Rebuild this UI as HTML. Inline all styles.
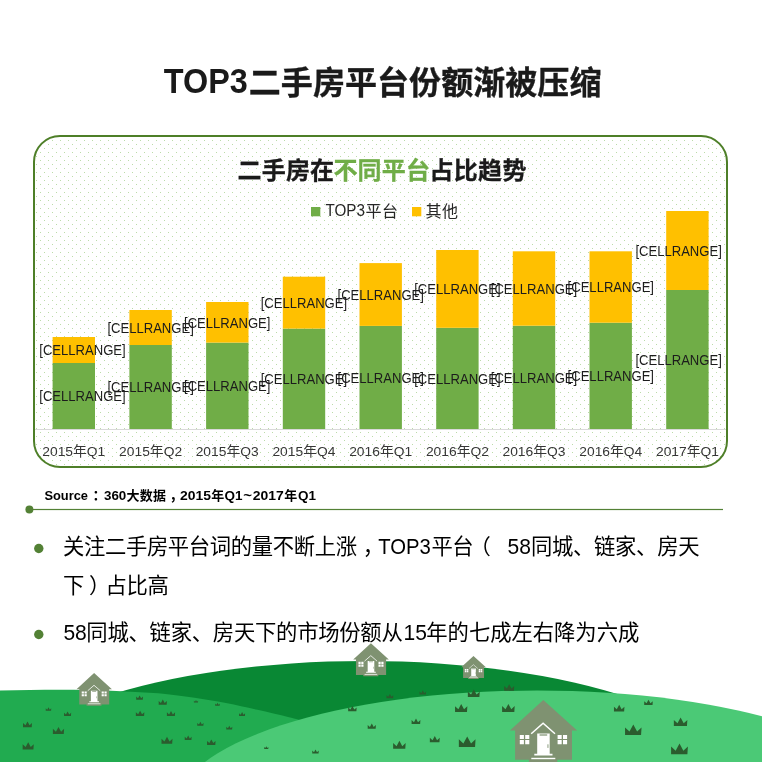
<!DOCTYPE html>
<html lang="zh-CN"><head><meta charset="utf-8"><title>TOP3二手房平台份额渐被压缩</title>
<style>html,body{margin:0;padding:0;background:#fff}body{width:762px;height:762px;overflow:hidden}svg{display:block}text{font-family:'Liberation Sans','Noto Sans CJK SC',sans-serif}</style>
</head><body>
<svg width="762" height="762" viewBox="0 0 762 762">
<defs>
<pattern id="dots" x="0" y="0" width="8" height="8" patternUnits="userSpaceOnUse"><rect x="0" y="0" width="1" height="1" fill="#bcdba9"/><rect x="4" y="4" width="1" height="1" fill="#bcdba9"/></pattern>
<path id="t" d="M-.5 0V-.46L-.23-.21 0-.635 .23-.21 .5-.46 .47 0Z"/>
<g id="h"><path fill="#7f9271" d="M.2 0L34 30.6H28.9V59.7H14.2V62.2H-14.2V59.7H-28V30.6H-33.2Z"/><path fill="none" stroke="#fff" stroke-width="1.5" d="M-11.9 33.7L0 23.3 11.9 33.7"/><path fill="#fff" d="M-5.9 33.5H6.6V53.8H9.4V55.4H-8.8V53.8H-5.9Z"/><rect fill="#fff" x="-11.8" y="57.8" width="24" height="1.4"/><rect fill="#7f9271" x="-3.5" y="34.4" width="7.6" height="1.2"/><rect fill="#7f9271" x="4.4" y="44.3" width="0.9" height="3.6"/><path fill="#fff" d="M-23.3 34.9h4.1v4.1h-4.1zM-17.9 34.9h4.1v4.1h-4.1zM-23.3 40.1h4.1v4.1h-4.1zM-17.9 40.1h4.1v4.1h-4.1zM14.5 34.9h4.1v4.1h-4.1zM19.9 34.9h4.1v4.1h-4.1zM14.5 40.1h4.1v4.1h-4.1zM19.9 40.1h4.1v4.1h-4.1z"/></g>
</defs>
<g fill="#1a1a1a" font-weight="bold" font-size="32">
<text x="163.8" y="92.7" font-size="35" textLength="84" lengthAdjust="spacingAndGlyphs">TOP3</text>
<text x="248.8" y="93.8" textLength="352.6" lengthAdjust="spacing" stroke="#1a1a1a" stroke-width=".35">二手房平台份额渐被压缩</text>
</g>
<rect x="34" y="136" width="693" height="331" rx="26" ry="26" fill="#fff"/>
<rect x="34" y="136" width="693" height="331" rx="26" ry="26" fill="url(#dots)" stroke="#4e7f28" stroke-width="2"/>
<g font-weight="bold" font-size="24" fill="#1a1a1a" stroke="#1a1a1a" stroke-width=".3">
<text x="237.5" y="178.5" textLength="96.6" lengthAdjust="spacing">二手房在</text>
<text x="333.4" y="178.5" textLength="96.6" lengthAdjust="spacing" fill="#70ad47" stroke="#70ad47">不同平台</text>
<text x="429.4" y="178.5" textLength="97" lengthAdjust="spacing">占比趋势</text>
</g>
<rect x="311" y="207" width="9.3" height="9.3" fill="#70ad47"/>
<rect x="412" y="207" width="9.3" height="9.3" fill="#ffc000"/>
<g font-size="16" fill="#262626">
<text x="325.5" y="215.5" font-size="16.6" textLength="39.5" lengthAdjust="spacingAndGlyphs">TOP3</text>
<text x="365.5" y="216.5" textLength="32.5" lengthAdjust="spacing">平台</text>
<text x="425.5" y="216.5" textLength="32.5" lengthAdjust="spacing">其他</text>
</g>
<g fill="#70ad47"><rect x="52.6" y="363.0" width="42.4" height="66.0"/><rect x="129.4" y="345.0" width="42.4" height="84.0"/><rect x="206.1" y="342.6" width="42.4" height="86.4"/><rect x="282.8" y="328.6" width="42.4" height="100.4"/><rect x="359.5" y="325.9" width="42.4" height="103.1"/><rect x="436.2" y="327.8" width="42.4" height="101.2"/><rect x="512.8" y="325.7" width="42.4" height="103.3"/><rect x="589.5" y="322.7" width="42.4" height="106.3"/><rect x="666.2" y="290.0" width="42.4" height="139.0"/></g>
<g fill="#ffc000"><rect x="52.6" y="337.0" width="42.4" height="26.0"/><rect x="129.4" y="310.0" width="42.4" height="35.0"/><rect x="206.1" y="302.0" width="42.4" height="40.6"/><rect x="282.8" y="276.7" width="42.4" height="51.9"/><rect x="359.5" y="263.1" width="42.4" height="62.8"/><rect x="436.2" y="250.0" width="42.4" height="77.8"/><rect x="512.8" y="251.3" width="42.4" height="74.4"/><rect x="589.5" y="251.3" width="42.4" height="71.4"/><rect x="666.2" y="211.0" width="42.4" height="79.0"/></g>
<rect x="35" y="429" width="691" height="1" fill="#d9d9d9"/>
<g font-size="14" fill="#1c1c1c" text-anchor="middle">
<text x="82.5" y="355.4" textLength="86.4" lengthAdjust="spacingAndGlyphs">[CELLRANGE]</text>
<text x="82.5" y="401.4" textLength="86.4" lengthAdjust="spacingAndGlyphs">[CELLRANGE]</text>
<text x="150.6" y="332.9" textLength="86.4" lengthAdjust="spacingAndGlyphs">[CELLRANGE]</text>
<text x="150.6" y="392.4" textLength="86.4" lengthAdjust="spacingAndGlyphs">[CELLRANGE]</text>
<text x="227.2" y="327.7" textLength="86.4" lengthAdjust="spacingAndGlyphs">[CELLRANGE]</text>
<text x="227.2" y="391.2" textLength="86.4" lengthAdjust="spacingAndGlyphs">[CELLRANGE]</text>
<text x="303.9" y="308.0" textLength="86.4" lengthAdjust="spacingAndGlyphs">[CELLRANGE]</text>
<text x="303.9" y="384.2" textLength="86.4" lengthAdjust="spacingAndGlyphs">[CELLRANGE]</text>
<text x="380.7" y="299.9" textLength="86.4" lengthAdjust="spacingAndGlyphs">[CELLRANGE]</text>
<text x="380.7" y="382.8" textLength="86.4" lengthAdjust="spacingAndGlyphs">[CELLRANGE]</text>
<text x="457.4" y="294.3" textLength="86.4" lengthAdjust="spacingAndGlyphs">[CELLRANGE]</text>
<text x="457.4" y="383.8" textLength="86.4" lengthAdjust="spacingAndGlyphs">[CELLRANGE]</text>
<text x="534.0" y="293.9" textLength="86.4" lengthAdjust="spacingAndGlyphs">[CELLRANGE]</text>
<text x="534.0" y="382.8" textLength="86.4" lengthAdjust="spacingAndGlyphs">[CELLRANGE]</text>
<text x="610.8" y="292.4" textLength="86.4" lengthAdjust="spacingAndGlyphs">[CELLRANGE]</text>
<text x="610.8" y="381.2" textLength="86.4" lengthAdjust="spacingAndGlyphs">[CELLRANGE]</text>
<text x="678.6" y="255.9" textLength="86.4" lengthAdjust="spacingAndGlyphs">[CELLRANGE]</text>
<text x="678.6" y="364.9" textLength="86.4" lengthAdjust="spacingAndGlyphs">[CELLRANGE]</text>
</g>
<g font-size="13.6" fill="#363636" text-anchor="middle">
<text x="73.8" y="455.8" textLength="63" lengthAdjust="spacingAndGlyphs">2015年Q1</text>
<text x="150.6" y="455.8" textLength="63" lengthAdjust="spacingAndGlyphs">2015年Q2</text>
<text x="227.2" y="455.8" textLength="63" lengthAdjust="spacingAndGlyphs">2015年Q3</text>
<text x="303.9" y="455.8" textLength="63" lengthAdjust="spacingAndGlyphs">2015年Q4</text>
<text x="380.7" y="455.8" textLength="63" lengthAdjust="spacingAndGlyphs">2016年Q1</text>
<text x="457.4" y="455.8" textLength="63" lengthAdjust="spacingAndGlyphs">2016年Q2</text>
<text x="534.0" y="455.8" textLength="63" lengthAdjust="spacingAndGlyphs">2016年Q3</text>
<text x="610.8" y="455.8" textLength="63" lengthAdjust="spacingAndGlyphs">2016年Q4</text>
<text x="687.5" y="455.8" textLength="63" lengthAdjust="spacingAndGlyphs">2017年Q1</text>
</g>
<text y="500" font-size="13.6" font-weight="bold" fill="#000"><tspan x="44.4" textLength="43.6" lengthAdjust="spacingAndGlyphs">Source</tspan><tspan x="92.5">：</tspan><tspan x="104" textLength="22.3" lengthAdjust="spacingAndGlyphs">360</tspan><tspan x="126.4" font-size="13" textLength="39.6" lengthAdjust="spacing">大数据</tspan><tspan x="169.5">，</tspan><tspan x="180" textLength="31" lengthAdjust="spacingAndGlyphs">2015</tspan><tspan x="211.2" font-size="13">年</tspan><tspan x="224.5" textLength="18" lengthAdjust="spacingAndGlyphs">Q1</tspan><tspan x="243.3" textLength="8.8" lengthAdjust="spacingAndGlyphs">~</tspan><tspan x="252.8" textLength="31" lengthAdjust="spacingAndGlyphs">2017</tspan><tspan x="284.2" font-size="13">年</tspan><tspan x="298" textLength="18" lengthAdjust="spacingAndGlyphs">Q1</tspan></text>
<rect x="29" y="508.9" width="694" height="1.2" fill="#538135"/>
<circle cx="29.4" cy="509.6" r="4" fill="#538135"/>
<circle cx="38.8" cy="548.5" r="4.7" fill="#538135"/>
<circle cx="38.8" cy="634.5" r="4.7" fill="#538135"/>
<g font-size="21.33" fill="#000">
<text y="554.2"><tspan x="63" textLength="294" lengthAdjust="spacing">关注二手房平台词的量不断上涨</tspan><tspan x="362.7">，</tspan><tspan x="378.3" y="553.7" textLength="52.6" font-size="22.6" lengthAdjust="spacingAndGlyphs">TOP3</tspan><tspan x="431.5" y="554.2" textLength="42" lengthAdjust="spacing">平台</tspan><tspan x="469.6">（</tspan><tspan x="507.6" y="553.7" textLength="23.4" font-size="22.6" lengthAdjust="spacingAndGlyphs">58</tspan><tspan x="531" y="554.2" textLength="168.5" lengthAdjust="spacing">同城、链家、房天</tspan></text>
<text y="592.6"><tspan x="63">下</tspan><tspan x="89">）</tspan><tspan x="105.4" textLength="63.4" lengthAdjust="spacing">占比高</tspan></text>
<text y="640.2"><tspan x="63.4" y="639.7" textLength="23.4" font-size="22.6" lengthAdjust="spacingAndGlyphs">58</tspan><tspan x="86.3" y="640.2" textLength="316.5" lengthAdjust="spacing">同城、链家、房天下的市场份额从</tspan><tspan x="403.6" y="639.7" textLength="23.4" font-size="22.6" lengthAdjust="spacingAndGlyphs">15</tspan><tspan x="426.3" y="640.2" textLength="213" lengthAdjust="spacing">年的七成左右降为六成</tspan></text>
</g>
<ellipse cx="365" cy="789" rx="376" ry="128" fill="#098834"/>
<path fill="#21ab50" d="M0 690.6C25 689.8 50 689.5 74 689.7C100 690 115 691 125 691.5C140 692.2 150 692.8 163 693.7C175 694.8 185 696.3 194.5 697.8C205 699.5 215 701 226 703.1C237 705.3 247 707.5 257.5 709.8C268 712.3 279 714.7 289 717.3C300 720 330 728 360 737C400 749 430 759 440 762H0Z"/>
<ellipse cx="537" cy="809.3" rx="362" ry="118.8" fill="#4bc976"/>
<use href="#h" transform="translate(94 673) scale(.527)"/>
<use href="#h" transform="translate(370.8 643.3) scale(.53)"/>
<use href="#h" transform="translate(473.4 656.1) scale(.368)"/>
<use href="#h" transform="translate(543.1 700)"/>
<g fill="#2b5c2e">
<use href="#t" transform="translate(48.5 710.8) scale(5.5)"/>
<use href="#t" transform="translate(67.6 716.0) scale(7.1)"/>
<use href="#t" transform="translate(27.5 727.2) scale(9.0)"/>
<use href="#t" transform="translate(58.5 734.0) scale(11.2)"/>
<use href="#t" transform="translate(28.2 749.4) scale(11.1)"/>
<use href="#t" transform="translate(139.6 699.7) scale(6.8)"/>
<use href="#t" transform="translate(162.8 704.8) scale(8.2)"/>
<use href="#t" transform="translate(196.0 702.6) scale(4.2)"/>
<use href="#t" transform="translate(217.5 705.7) scale(4.6)"/>
<use href="#t" transform="translate(140.1 716.1) scale(8.5)"/>
<use href="#t" transform="translate(171.0 716.1) scale(8.2)"/>
<use href="#t" transform="translate(242.1 715.9) scale(6.0)"/>
<use href="#t" transform="translate(200.4 725.8) scale(6.3)"/>
<use href="#t" transform="translate(229.3 729.6) scale(6.0)"/>
<use href="#t" transform="translate(167.0 743.7) scale(11.0)"/>
<use href="#t" transform="translate(188.2 740.0) scale(6.9)"/>
<use href="#t" transform="translate(211.3 744.9) scale(8.5)"/>
<use href="#t" transform="translate(352.4 711.3) scale(8.5)"/>
<use href="#t" transform="translate(371.8 728.7) scale(8.2)"/>
<use href="#t" transform="translate(266.3 748.9) scale(4.2)"/>
<use href="#t" transform="translate(315.5 753.6) scale(6.5)"/>
<use href="#t" transform="translate(389.9 698.3) scale(6.8)"/>
<use href="#t" transform="translate(422.8 694.5) scale(6.5)"/>
<use href="#t" transform="translate(473.8 697.1) scale(11.9)"/>
<use href="#t" transform="translate(509.2 690.7) scale(10.0)"/>
<use href="#t" transform="translate(461.2 711.9) scale(12.3)"/>
<use href="#t" transform="translate(508.4 711.9) scale(12.6)"/>
<use href="#t" transform="translate(416.0 724.0) scale(8.8)"/>
<use href="#t" transform="translate(434.8 742.3) scale(9.9)"/>
<use href="#t" transform="translate(399.4 748.8) scale(12.5)"/>
<use href="#t" transform="translate(467.2 747.0) scale(16.7)"/>
<use href="#t" transform="translate(619.2 711.5) scale(10.5)"/>
<use href="#t" transform="translate(648.5 705.1) scale(8.6)"/>
<use href="#t" transform="translate(680.6 726.1) scale(13.5)"/>
<use href="#t" transform="translate(633.3 735.0) scale(16.5)"/>
<use href="#t" transform="translate(679.5 754.2) scale(16.8)"/>
</g>
</svg></body></html>
